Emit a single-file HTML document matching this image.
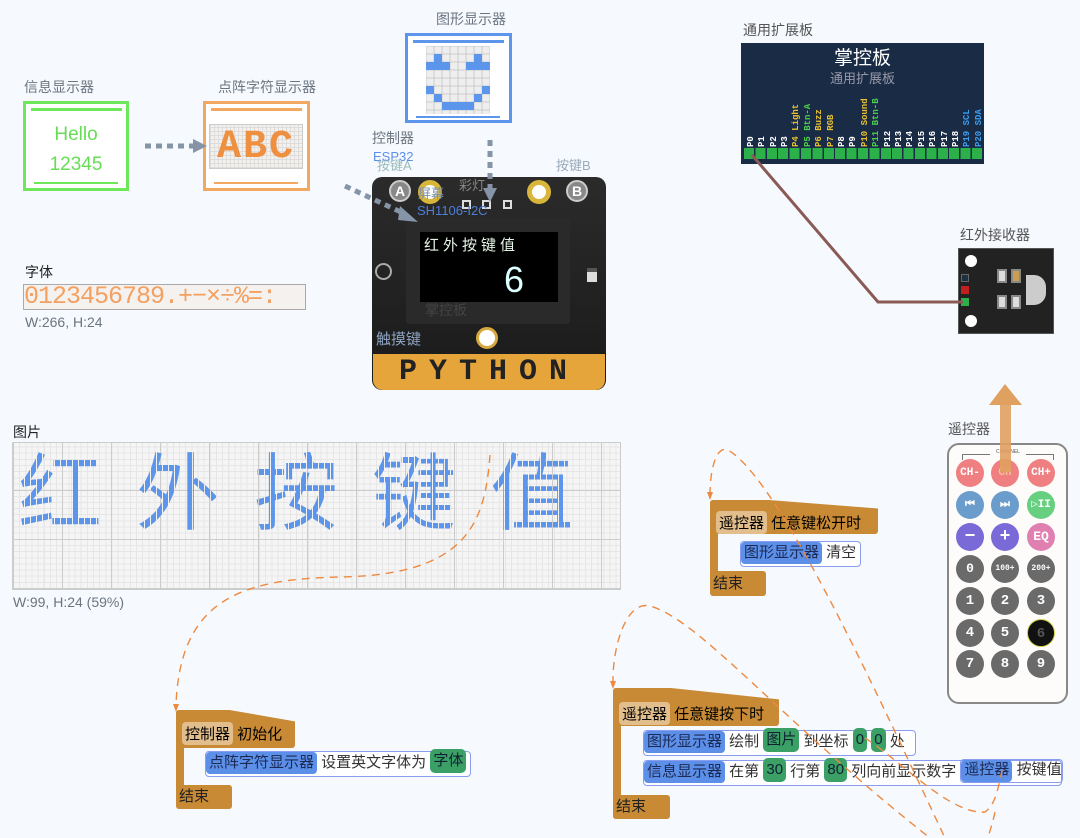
<!DOCTYPE html>
<html><head><meta charset="utf-8"><style>
*{margin:0;padding:0;box-sizing:border-box}
body{width:1080px;height:838px;background:#f6f9fe;position:relative;overflow:hidden;font-family:"Liberation Sans","Noto Sans CJK SC",sans-serif;}
.a{position:absolute}
.lbl{position:absolute;font-size:14px;color:#6b7580;white-space:nowrap}
.win{position:absolute;background:#fff;border:3px solid}
.hat{position:absolute;background:#c98a35;border-radius:3px;color:#222;font-size:15px}
.chip{display:inline-block;background:#e2be8c;border-radius:4px;padding:1px 3px}
.st{position:absolute;background:#fff;border:1.5px solid #8a9cf0;border-radius:4px;font-size:15px;color:#333;height:26px;line-height:22px;white-space:nowrap;padding-right:3px}
.bc{display:inline-block;background:#5b8fe8;border-radius:4px;padding:0 3px;color:#1d2a55;height:22px}
.gc{display:inline-block;background:#3aa066;border-radius:5px;padding:0 3px;color:#123;height:24px;margin-top:-3px;vertical-align:top;line-height:24px}
.btn{position:absolute;width:28px;height:28px;border-radius:50%;color:#fff;font-size:11px;font-weight:bold;text-align:center;line-height:28px;font-family:"Liberation Mono",monospace}
</style></head><body>

<div class="lbl" style="left:24px;top:77px">信息显示器</div>
<div class="win" style="left:23px;top:101px;width:106px;height:90px;border-color:#6ee85a">
 <div class="a" style="left:5px;top:4px;width:91px;height:3px;background:#6ee85a"></div>
 <div class="a" style="left:0;top:16px;width:100px;text-align:center;color:#66dd55;font-size:19px;line-height:30px">Hello<br>12345</div>
 <div class="a" style="left:8px;top:78px;width:84px;height:2px;background:#6ee85a"></div>
</div>
<div class="lbl" style="left:218px;top:77px">点阵字符显示器</div>
<div class="win" style="left:203px;top:101px;width:107px;height:90px;border-color:#f3a862">
 <div class="a" style="left:5px;top:4px;width:91px;height:3px;background:#f3a862"></div>
 <div class="a" style="left:3px;top:20px;width:94px;height:45px;background:repeating-linear-gradient(90deg,#ddd 0 1px,transparent 1px 4px),repeating-linear-gradient(0deg,#ddd 0 1px,#f6f0ea 1px 4px);border:1px solid #ccc;color:#ee9040;font:bold 40px/45px 'Liberation Mono',monospace;letter-spacing:2px;text-align:center">ABC</div>
 <div class="a" style="left:8px;top:78px;width:84px;height:2px;background:#f3a862"></div>
</div>
<div class="lbl" style="left:436px;top:9px">图形显示器</div>
<div class="win" style="left:405px;top:33px;width:107px;height:90px;border-color:#5c95ec">
 <div class="a" style="left:5px;top:4px;width:91px;height:3px;background:#5c95ec"></div>
 <svg class="a" style="left:18px;top:10px" width="64" height="68">
  <defs><pattern id="g" width="8" height="8" patternUnits="userSpaceOnUse"><rect width="8" height="8" fill="#eee" stroke="#ccc" stroke-width="1"/></pattern></defs>
  <rect width="64" height="68" fill="url(#g)"/>
  <g fill="#5c95ec"><rect x="8" y="8" width="8" height="8"/><rect x="48" y="8" width="8" height="8"/><rect x="0" y="16" width="24" height="8"/><rect x="40" y="16" width="24" height="8"/><rect x="0" y="40" width="8" height="8"/><rect x="56" y="40" width="8" height="8"/><rect x="8" y="48" width="8" height="8"/><rect x="48" y="48" width="8" height="8"/><rect x="16" y="56" width="32" height="8"/></g>
 </svg>
 <div class="a" style="left:8px;top:80px;width:84px;height:2px;background:#5c95ec"></div>
</div>

<div class="lbl" style="left:372px;top:128px;font-size:14px">控制器</div>
<div class="lbl" style="left:373px;top:149px;font-size:13px;color:#5c8fe6">ESP32</div>
<div class="lbl" style="left:377px;top:155px;font-size:13px;color:#9bb">按键A</div>
<div class="lbl" style="left:556px;top:155px;font-size:13px;color:#9ab">按键B</div>
<div class="a" style="left:372px;top:177px;width:234px;height:213px;background:linear-gradient(#2b2b2b,#1a1a1a);border-radius:10px"></div>
<div class="a" style="left:389px;top:180px;width:22px;height:22px;border-radius:50%;background:#888;border:2px solid #ccc;color:#fff;font-weight:bold;font-size:14px;text-align:center;line-height:18px">A</div>
<div class="a" style="left:566px;top:180px;width:22px;height:22px;border-radius:50%;background:#888;border:2px solid #ccc;color:#fff;font-weight:bold;font-size:14px;text-align:center;line-height:18px">B</div>
<div class="a" style="left:418px;top:180px;width:24px;height:24px;border-radius:50%;background:#fff;border:5px solid #d8b63a"></div>
<div class="a" style="left:527px;top:180px;width:24px;height:24px;border-radius:50%;background:#fff;border:5px solid #d8b63a"></div>
<div class="a" style="left:462px;top:200px;width:9px;height:9px;border:2px solid #ddd"></div>
<div class="a" style="left:482px;top:200px;width:9px;height:9px;border:2px solid #ddd"></div>
<div class="a" style="left:503px;top:200px;width:9px;height:9px;border:2px solid #ddd"></div>
<div class="lbl" style="left:418px;top:183px;font-size:13px;color:#7a8fb0">屏幕</div>
<div class="lbl" style="left:459px;top:175px;font-size:13px;color:#888">彩灯</div>
<div class="lbl" style="left:417px;top:203px;font-size:13px;color:#4d7fd8">SH1106-I2C</div>
<div class="a" style="left:406px;top:218px;width:164px;height:106px;background:#2a2a2a;border-radius:3px"></div>
<div class="a" style="left:420px;top:232px;width:138px;height:70px;background:#000;color:#e6f4e6;font-size:15px;letter-spacing:4px;padding:2px 4px">红外按键值
 <div class="a" style="left:84px;top:28px;font:36px/40px 'Liberation Sans',sans-serif;color:#dff">6</div></div>
<div class="lbl" style="left:425px;top:300px;font-size:14px;color:#444">掌控板</div>
<div class="a" style="left:375px;top:263px;width:17px;height:17px;border-radius:50%;border:2px solid #aaa"></div>
<div class="a" style="left:587px;top:268px;width:10px;height:14px;background:#ddd;border-top:4px solid #555"></div>
<div class="lbl" style="left:376px;top:328px;font-size:15px;color:#8da3c0">触摸键</div>
<div class="a" style="left:476px;top:327px;width:22px;height:22px;border-radius:50%;background:#fff;border:3px solid #d8a840"></div>
<div class="a" style="left:373px;top:354px;width:232px;height:36px;background:#e6a53a;color:#222;font:bold 30px/36px 'Liberation Mono',monospace;letter-spacing:12px;text-align:center;border-radius:0 0 10px 10px">PYTHON</div>

<div class="lbl" style="left:25px;top:262px;color:#222">字体</div>
<div class="a" style="left:23px;top:284px;width:283px;height:26px;background:#f4f1ee;border:1.5px solid #aaa;color:#f3a060;font:25px/24px 'Liberation Mono',monospace;letter-spacing:-1px;white-space:nowrap;overflow:hidden">0123456789.+−×÷%=:</div>
<div class="lbl" style="left:25px;top:314px">W:266, H:24</div>

<div class="lbl" style="left:13px;top:422px;color:#222">图片</div>
<div class="a" style="left:12px;top:442px;width:609px;height:148px;border:1.5px solid #ccc;background:repeating-linear-gradient(90deg,#ccc 0 1px,transparent 1px 49px),repeating-linear-gradient(0deg,#ccc 0 1px,transparent 1px 49px),repeating-linear-gradient(90deg,#e6e6e6 0 1px,transparent 1px 6.15px),repeating-linear-gradient(0deg,#e6e6e6 0 1px,#f5f5f5 1px 6.15px)"></div>
<div class="a" style="left:18px;top:438px;font:84px/100px 'Noto Sans CJK SC',sans-serif;letter-spacing:34px;white-space:nowrap;color:transparent;background:repeating-linear-gradient(90deg,transparent 0 1px,#5c95ec 1px 6px),repeating-linear-gradient(0deg,transparent 0 1px,transparent 1px 6px);-webkit-background-clip:text;background-clip:text">红外按键值</div>

<div class="lbl" style="left:13px;top:594px">W:99, H:24 (59%)</div>

<div class="lbl" style="left:743px;top:20px;color:#555">通用扩展板</div>
<div class="a" style="left:741px;top:43px;width:243px;height:121px;background:#1a2c45">
 <div class="a" style="left:0;top:0;width:243px;text-align:center;color:#fff;font-size:19px">掌控板</div>
 <div class="a" style="left:0;top:25px;width:243px;text-align:center;color:#99a;font-size:13px">通用扩展板</div>
 <div class="a" style="left:3px;top:105px;width:238px;height:11px;background:repeating-linear-gradient(90deg,#2bb04a 0 10px,#1a2c45 10px 11.4px)"></div>
 <svg class="a" style="left:0;top:50px" width="243" height="56" font-family="Liberation Mono" font-size="9" font-weight="bold">
  <g transform="rotate(-90)">
  <text x="-54" y="12" fill="#fff">P0</text><text x="-54" y="23" fill="#fff">P1</text><text x="-54" y="35" fill="#fff">P2</text><text x="-54" y="46" fill="#fff">P3</text>
  <text x="-54" y="57" fill="#e8c030">P4 Light</text><text x="-54" y="69" fill="#4cd04c">P5 Btn-A</text><text x="-54" y="80" fill="#e8c030">P6 Buzz</text><text x="-54" y="92" fill="#e8c030">P7 RGB</text>
  <text x="-54" y="103" fill="#fff">P8</text><text x="-54" y="114" fill="#fff">P9</text><text x="-54" y="126" fill="#e8c030">P10 Sound</text><text x="-54" y="137" fill="#4cd04c">P11 Btn-B</text>
  <text x="-54" y="149" fill="#fff">P12</text><text x="-54" y="160" fill="#fff">P13</text><text x="-54" y="171" fill="#fff">P14</text><text x="-54" y="183" fill="#fff">P15</text><text x="-54" y="194" fill="#fff">P16</text><text x="-54" y="206" fill="#fff">P17</text><text x="-54" y="217" fill="#fff">P18</text>
  <text x="-54" y="228" fill="#3a9cf0">P19 SCL</text><text x="-54" y="240" fill="#3a9cf0">P20 SDA</text></g>
 </svg>
</div>
<div class="lbl" style="left:960px;top:225px;color:#555">红外接收器</div>
<div class="a" style="left:958px;top:248px;width:96px;height:86px;background:#222;border:1px solid #555">
 <div class="a" style="left:6px;top:6px;width:12px;height:12px;border-radius:50%;background:#fff"></div>
 <div class="a" style="left:6px;top:66px;width:12px;height:12px;border-radius:50%;background:#fff"></div>
 <div class="a" style="left:2px;top:25px;width:8px;height:8px;background:#1c3040;border:1px solid #666"></div>
 <div class="a" style="left:2px;top:37px;width:8px;height:8px;background:#c02020"></div>
 <div class="a" style="left:2px;top:49px;width:8px;height:8px;background:#2bb04a"></div>
 <div class="a" style="left:38px;top:20px;width:10px;height:14px;background:#ddd;border:2px solid #888"></div>
 <div class="a" style="left:52px;top:20px;width:10px;height:14px;background:#c8a050;border:2px solid #888"></div>
 <div class="a" style="left:38px;top:46px;width:10px;height:14px;background:#ddd;border:2px solid #888"></div>
 <div class="a" style="left:52px;top:46px;width:10px;height:14px;background:#ddd;border:2px solid #888"></div>
 <div class="a" style="left:67px;top:26px;width:20px;height:30px;background:#ccc;border-radius:0 12px 12px 0"></div>
</div>

<div class="lbl" style="left:948px;top:419px;color:#555">遥控器</div>
<div class="a" style="left:947px;top:443px;width:121px;height:261px;background:#fdfcfb;border:2px solid #888;border-radius:12px"></div>
<div class="a" style="left:962px;top:454px;width:92px;height:6px;border:1px solid #777;border-bottom:none"></div>
<div class="a" style="left:990px;top:449px;width:36px;height:10px;background:#fdfcfb;font-size:5px;color:#555;text-align:center">CHANNEL</div>
<div class="btn" style="left:956px;top:459px;background:#ef7f80">CH-</div>
<div class="btn" style="left:991px;top:459px;background:#ef7f80;color:#f5c090">CH</div>
<div class="btn" style="left:1027px;top:459px;background:#ef7f80">CH+</div>
<div class="btn" style="left:956px;top:491px;background:#6a9ccc">⏮</div>
<div class="btn" style="left:991px;top:491px;background:#6a9ccc">⏭</div>
<div class="btn" style="left:1027px;top:491px;background:#66d080">▷II</div>
<div class="btn" style="left:956px;top:523px;background:#7a6ad8;font-size:18px">−</div>
<div class="btn" style="left:991px;top:523px;background:#7a6ad8;font-size:18px">+</div>
<div class="btn" style="left:1027px;top:523px;background:#e080b0;font-size:13px">EQ</div>
<div class="btn" style="left:956px;top:555px;background:#6a6a6a;font-size:13px">0</div>
<div class="btn" style="left:991px;top:555px;background:#6a6a6a;font-size:8px">100+</div>
<div class="btn" style="left:1027px;top:555px;background:#6a6a6a;font-size:8px">200+</div>
<div class="btn" style="left:956px;top:587px;background:#6a6a6a;font-size:14px">1</div>
<div class="btn" style="left:991px;top:587px;background:#6a6a6a;font-size:14px">2</div>
<div class="btn" style="left:1027px;top:587px;background:#6a6a6a;font-size:14px">3</div>
<div class="btn" style="left:956px;top:619px;background:#6a6a6a;font-size:14px">4</div>
<div class="btn" style="left:991px;top:619px;background:#6a6a6a;font-size:14px">5</div>
<div class="btn" style="left:1027px;top:619px;background:#111;color:#555;border:1px solid #cc4;font-size:14px">6</div>
<div class="btn" style="left:956px;top:650px;background:#6a6a6a;font-size:14px">7</div>
<div class="btn" style="left:991px;top:650px;background:#6a6a6a;font-size:14px">8</div>
<div class="btn" style="left:1027px;top:650px;background:#6a6a6a;font-size:14px">9</div>

<div class="hat" style="left:176px;top:710px;width:8px;height:98px"></div>
<div class="hat" style="left:176px;top:710px;width:119px;height:38px;clip-path:polygon(0 0,45% 0,100% 30%,100% 100%,0 100%)"></div>
<div class="a" style="left:182px;top:722px;font-size:15px"><span class="chip">控制器</span> 初始化</div>
<div class="st" style="left:205px;top:751px;width:266px"><span class="bc">点阵字符显示器</span> 设置英文字体为 <span class="gc">字体</span></div>
<div class="hat" style="left:176px;top:785px;width:56px;height:24px;line-height:24px;padding-left:3px">结束</div>

<div class="hat" style="left:710px;top:500px;width:8px;height:95px"></div>
<div class="hat" style="left:710px;top:500px;width:168px;height:34px;clip-path:polygon(0 0,35% 0,100% 25%,100% 100%,0 100%)"></div>
<div class="a" style="left:716px;top:511px;font-size:15px"><span class="chip">遥控器</span> 任意键松开时</div>
<div class="st" style="left:740px;top:541px;width:121px"><span class="bc">图形显示器</span> 清空</div>
<div class="hat" style="left:710px;top:571px;width:56px;height:25px;line-height:25px;padding-left:3px">结束</div>

<div class="hat" style="left:613px;top:688px;width:8px;height:131px"></div>
<div class="hat" style="left:613px;top:688px;width:166px;height:38px;clip-path:polygon(0 0,35% 0,100% 30%,100% 100%,0 100%)"></div>
<div class="a" style="left:619px;top:702px;font-size:15px"><span class="chip">遥控器</span> 任意键按下时</div>
<div class="st" style="left:643px;top:730px;width:273px"><span class="bc">图形显示器</span> 绘制 <span class="gc">图片</span> 到坐标 <span class="gc">0</span> <span class="gc">0</span> 处</div>
<div class="st" style="left:643px;top:760px;width:419px"><span class="bc">信息显示器</span> 在第 <span class="gc">30</span> 行第 <span class="gc">80</span> 列向前显示数字 <span style="display:inline-block;border:1.5px solid #8a9cf0;border-radius:4px;height:24px;margin-top:-2px;vertical-align:top;line-height:20px"><span class="bc">遥控器</span> 按键值</span></div>
<div class="hat" style="left:613px;top:795px;width:57px;height:24px;line-height:24px;padding-left:3px">结束</div>

<svg class="a" style="left:0;top:0" width="1080" height="838">
 <g stroke="#8594a6" stroke-width="5" stroke-dasharray="6,5" fill="none">
  <line x1="145" y1="146" x2="195" y2="146"/>
  <line x1="490" y1="140" x2="490" y2="190"/>
  <line x1="345" y1="186" x2="405" y2="214"/>
 </g>
 <g fill="#8594a6"><polygon points="193,139 207,146 193,153"/><polygon points="483,188 497,188 490,202"/><polygon points="400,206 418,222 398,220"/></g>
 <polyline points="752,155 878,302 963,302" fill="none" stroke="#8a5a55" stroke-width="3"/>
 <rect x="1000" y="400" width="11" height="72" fill="#e0a060" opacity=".9"/>
 <polygon points="989,405 1005,384 1022,405" fill="#e0a060"/>
 <g stroke="#ee8a40" stroke-width="1.4" stroke-dasharray="8,6" fill="none">
  <path d="M490,455 C485,520 470,575 340,577 C240,579 180,600 176,705"/>
  <path d="M710,495 C710,470 716,445 728,450 C780,480 880,700 945,838"/>
  <path d="M613,684 C612,650 625,600 650,606 C700,620 780,720 930,838"/>
  <path d="M865,738 C900,760 950,815 985,812 C995,805 998,790 1002,770"/>
  <path d="M995,812 C993,822 990,830 988,838"/>
 </g>
 <g fill="#ee8a40"><polygon points="173,704 179,704 176,712"/><polygon points="707,492 713,492 710,500"/><polygon points="610,681 616,681 613,689"/></g>
</svg>
</body></html>
